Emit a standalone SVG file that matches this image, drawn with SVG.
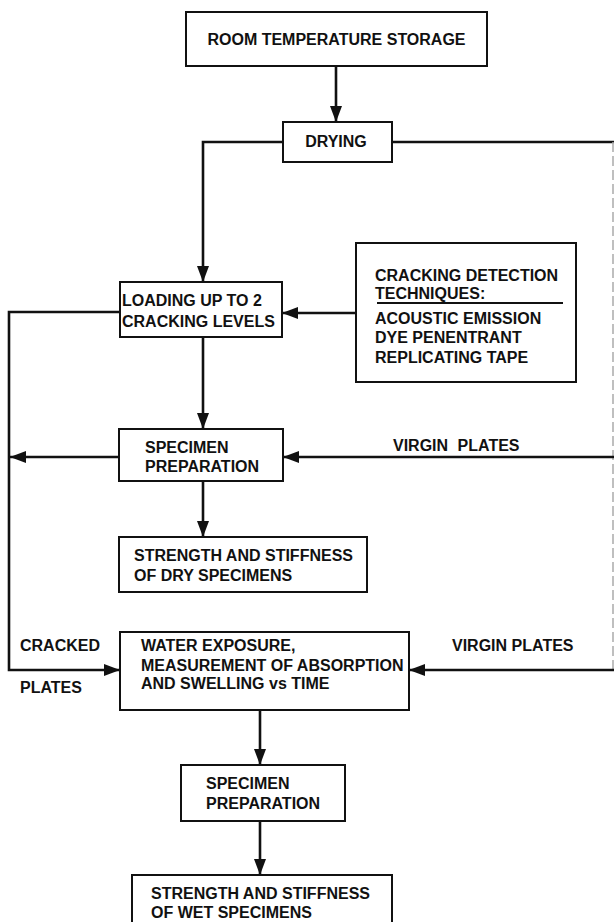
<svg xmlns="http://www.w3.org/2000/svg" width="614" height="922" viewBox="0 0 614 922">
<style>
.box{fill:#fff;stroke:#111;stroke-width:2}
.t{font-family:"Liberation Sans",Arial,sans-serif;font-weight:bold;font-size:16px;fill:#111}
.c{fill:none;stroke:#111;stroke-width:2.6}
.faint{fill:none;stroke:#aaa;stroke-width:1.5;stroke-dasharray:10 4}
</style>
<defs>
<marker id="ah" viewBox="0 0 16 12" refX="16" refY="6" markerWidth="16" markerHeight="12" markerUnits="userSpaceOnUse" orient="auto">
<path d="M0,0 L16,6 L0,12 Z" fill="#111"/>
</marker>
</defs>
<rect width="614" height="922" fill="#fff"/>
<g id="connectors">
<line class="c" x1="336" y1="66" x2="336" y2="122" marker-end="url(#ah)"/>
<polyline class="c" points="283,142 203,142 203,282" marker-end="url(#ah)"/>
<line class="c" x1="392" y1="142" x2="614" y2="142"/>
<line class="faint" x1="613" y1="142" x2="613" y2="670"/>
<line class="c" x1="356" y1="313" x2="282" y2="313" marker-end="url(#ah)"/>
<line class="c" x1="203" y1="337" x2="203" y2="429" marker-end="url(#ah)"/>
<polyline class="c" points="120,312 9,312 9,670 120,670" marker-end="url(#ah)"/>
<line class="c" x1="119" y1="457" x2="10" y2="457" marker-end="url(#ah)"/>
<line class="c" x1="614" y1="457" x2="283" y2="457" marker-end="url(#ah)"/>
<line class="c" x1="203" y1="481" x2="203" y2="537" marker-end="url(#ah)"/>
<line class="c" x1="614" y1="670" x2="409" y2="670" marker-end="url(#ah)"/>
<line class="c" x1="260" y1="710" x2="260" y2="765" marker-end="url(#ah)"/>
<line class="c" x1="260" y1="821" x2="260" y2="875" marker-end="url(#ah)"/>
<text class="t" x="393" y="451" word-spacing="5">VIRGIN PLATES</text>
<text class="t" x="452" y="651">VIRGIN PLATES</text>
<text class="t" x="20" y="651">CRACKED</text>
<text class="t" x="20" y="693">PLATES</text>
</g>
<g id="room">
<rect class="box" x="186" y="12" width="301" height="54"/>
<text class="t" x="336.5" y="45" text-anchor="middle">ROOM TEMPERATURE STORAGE</text>
</g>
<g id="drying">
<rect class="box" x="283" y="122" width="109" height="40"/>
<text class="t" x="336" y="147" text-anchor="middle">DRYING</text>
</g>
<g id="loading">
<rect class="box" x="120" y="282" width="162" height="55"/>
<text class="t" x="122" y="306">LOADING UP TO 2</text>
<text class="t" x="122" y="327">CRACKING LEVELS</text>
</g>
<g id="detection">
<rect class="box" x="356" y="243" width="220" height="139"/>
<text class="t" x="375" y="281">CRACKING DETECTION</text>
<text class="t" x="375" y="299">TECHNIQUES:</text>
<line x1="377" y1="303" x2="563" y2="303" stroke="#111" stroke-width="1.8"/>
<text class="t" x="375" y="324">ACOUSTIC EMISSION</text>
<text class="t" x="375" y="343">DYE PENENTRANT</text>
<text class="t" x="375" y="363">REPLICATING TAPE</text>
</g>
<g id="prep1">
<rect class="box" x="119" y="429" width="164" height="52"/>
<text class="t" x="145" y="453">SPECIMEN</text>
<text class="t" x="145" y="472">PREPARATION</text>
</g>
<g id="dry">
<rect class="box" x="119" y="537" width="248" height="55"/>
<text class="t" x="134" y="561">STRENGTH AND STIFFNESS</text>
<text class="t" x="134" y="581">OF DRY SPECIMENS</text>
</g>
<g id="water">
<rect class="box" x="120" y="632" width="289" height="78"/>
<text class="t" x="141" y="651">WATER EXPOSURE,</text>
<text class="t" x="141" y="671">MEASUREMENT OF ABSORPTION</text>
<text class="t" x="141" y="689">AND SWELLING vs TIME</text>
</g>
<g id="prep2">
<rect class="box" x="181" y="765" width="164" height="56"/>
<text class="t" x="206" y="789">SPECIMEN</text>
<text class="t" x="206" y="809">PREPARATION</text>
</g>
<g id="wet">
<rect class="box" x="132" y="875" width="260" height="60"/>
<text class="t" x="151" y="899">STRENGTH AND STIFFNESS</text>
<text class="t" x="151" y="918">OF WET SPECIMENS</text>
</g>
</svg>
